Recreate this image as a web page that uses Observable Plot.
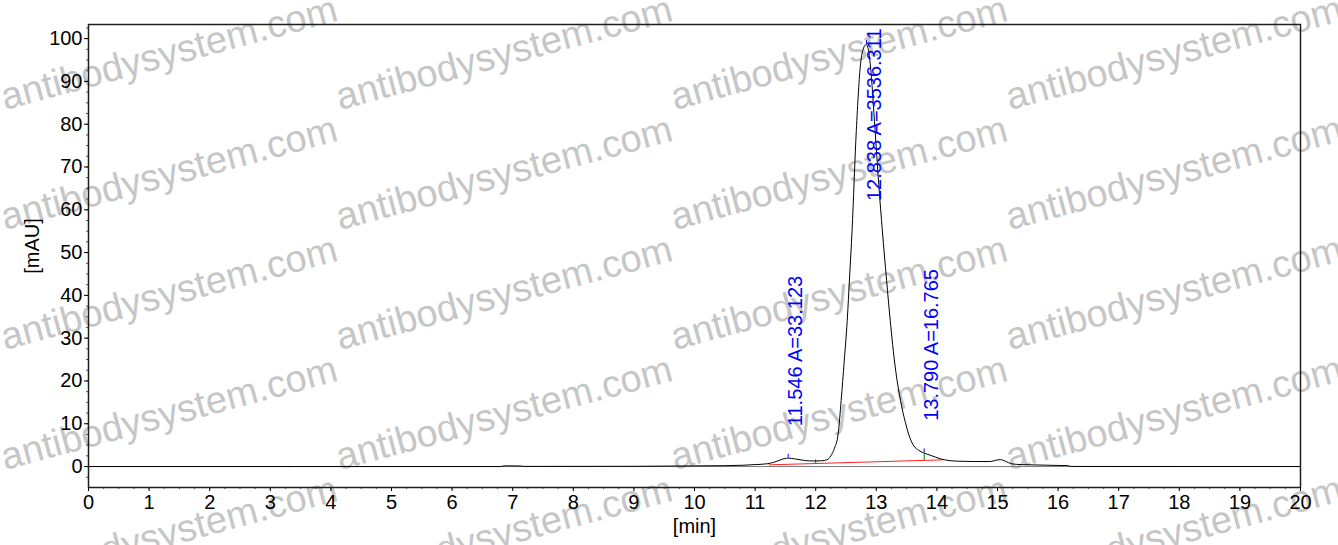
<!DOCTYPE html>
<html><head><meta charset="utf-8">
<script src="https://cdn.jsdelivr.net/npm/d3@7"></script>
<script src="https://cdn.jsdelivr.net/npm/@observablehq/plot@0.6"></script>
<style>
body{margin:0;background:#fff;}
#wrap{position:relative;width:1338px;height:545px;overflow:hidden;}
#wm{position:absolute;left:0;top:0;}
#chart{position:absolute;left:0;top:0;}
</style></head><body>
<div id="wrap"><svg id="wm" width="1338" height="545"></svg><div id="chart"></div></div>
<script>
// chromatogram trace
const time   = [0, 6.8, 6.85, 7.0, 7.12, 7.2, 9.0, 9.5, 10.0, 10.5, 10.8, 11.0, 11.2, 11.3, 11.42, 11.48, 11.55, 11.65, 11.8, 11.9, 12.0, 12.1, 12.19, 12.25, 12.31, 12.37, 12.42, 12.47, 12.52, 12.56, 12.6, 12.67, 12.74, 12.79, 12.83, 12.86, 12.9, 12.98, 13.04, 13.1, 13.17, 13.23, 13.31, 13.4, 13.48, 13.56, 13.62, 13.7, 13.78, 13.9, 14.06, 14.2, 14.35, 14.6, 14.88, 14.97, 15.05, 15.12, 15.24, 15.4, 15.6, 16.0, 16.15, 16.22, 20];
const signal = [0, 0, 0.15, 0.15, 0.12, 0.03, 0.05, 0.1, 0.15, 0.2, 0.3, 0.45, 0.65, 0.95, 1.55, 1.85, 1.95, 1.8, 1.45, 1.32, 1.3, 1.35, 1.6, 2.5, 4.3, 7.6, 15.4, 24.5, 34.1, 44.5, 55.1, 78.5, 94.1, 97.8, 98.6, 98.0, 94.1, 78.5, 66, 55.1, 43.5, 34.1, 23.5, 15.4, 10.3, 6.5, 4.8, 3.8, 3.2, 2.6, 1.8, 1.4, 1.25, 1.17, 1.17, 1.45, 1.63, 1.3, 0.62, 0.45, 0.38, 0.25, 0.22, 0.02, 0];

// integrated peaks
const peakTimes   = [11.546, 12.838, 13.790];
const peakAreas   = ["33.123", "3536.311", "16.765"];
const peakHeights = [1.95, 98.6, 3.2];

// integration baseline (red) and peak boundaries (green)
const baseTimes  = [11.23, 14.09];
const baseValues = [0.39, 1.56];
const boundTimes = [12.0, 13.79];
const boundTops  = [1.55, 3.0];

// axis ticks
const xTicks = d3.range(0, 21, 1);
const yTicks = d3.range(0, 101, 10);
const xMinor = d3.range(0, 20.001, 0.25);
const yMinor = d3.range(-2.5, 102.6, 2.5);

const trace = time.map((t, i) => ({t, v: signal[i]}));
const peaks = peakTimes.map((t, i) => ({t, h: peakHeights[i], label: `${t.toFixed(3)} A=${peakAreas[i]}`}));
const small = peaks.filter(p => p.h < 50);
const main = peaks.filter(p => p.h >= 50);
const base = baseTimes.map((t, i) => ({t, v: baseValues[i]}));
const baseAt = t => baseValues[0] + (t - baseTimes[0]) / (baseTimes[1] - baseTimes[0]) * (baseValues[1] - baseValues[0]);
const bounds = boundTimes.map((t, i) => ({t, top: boundTops[i], bottom: baseAt(t)}));

const font = "Arial, 'Liberation Sans', sans-serif";

const chart = Plot.plot({
  width: 1338,
  height: 545,
  marginLeft: 88,
  marginRight: 38,
  marginTop: 24,
  marginBottom: 58,
  style: {fontFamily: font, fontSize: "20px", background: "transparent", color: "#000"},
  x: {domain: [0, 20]},
  y: {domain: [-4.9, 103.3]},
  marks: [
    Plot.ruleY([0], {stroke: "#7a7a7a", strokeWidth: 1}),
    Plot.line(base, {x: "t", y: "v", stroke: "#ff2020", strokeWidth: 1}),
    Plot.ruleX(bounds, {x: "t", y1: "bottom", y2: "top", stroke: "#008000", strokeWidth: 1}),
    Plot.line(trace, {x: "t", y: "v", stroke: "#000", strokeWidth: 1, curve: "monotone-x"}),
    Plot.ruleX(peaks, {x: "t", y1: "h", y2: d => d.h + 0.9, stroke: "#0000ff", strokeWidth: 1}),
    Plot.text(small, {x: "t", y: "h", text: "label", rotate: -90, textAnchor: "start", lineAnchor: "top", dy: -32, fill: "#0000ff", fontSize: 20}),
    Plot.text(main, {x: "t", frameAnchor: "top", text: "label", rotate: -90, textAnchor: "end", lineAnchor: "top", dy: 4, fill: "#0000ff", fontSize: 20}),
    Plot.axisX({ticks: xMinor, tickSize: 2, tickFormat: null, text: null, label: null, stroke: "#555"}),
    Plot.axisY({ticks: yMinor, tickSize: 2, tickFormat: null, text: null, label: null, stroke: "#555"}),
    Plot.axisX({ticks: xTicks, tickSize: 4, tickPadding: 3, tickFormat: d => String(d), label: null, fontSize: 20}),
    Plot.axisY({ticks: yTicks, tickSize: 4, tickPadding: 2, tickFormat: d => String(d), label: null, fontSize: 20}),
    Plot.text(["[min]"], {frameAnchor: "bottom", textAnchor: "middle", lineAnchor: "middle", dy: 39, fontSize: 20}),
    Plot.text(["[mAU]"], {frameAnchor: "left", rotate: -90, textAnchor: "middle", lineAnchor: "middle", dx: -56, dy: -10, fontSize: 20}),
    Plot.frame({stroke: "#1e1e1e", strokeWidth: 1.5})
  ]
});
document.getElementById("chart").append(chart);

// background watermark
const wm = d3.select("#wm");
const wmText = "antibodysystem.com";
for (let c = 0; c < 4; c++) {
  for (let r = 0; r < 6; r++) {
    wm.append("text")
      .attr("transform", `translate(${5 + 335 * c},${110 + 120 * r}) rotate(-15)`)
      .attr("font-family", font)
      .attr("font-size", 38)
      .attr("fill", "#c6c6c6")
      .text(wmText);
  }
}
</script>
</body></html>
